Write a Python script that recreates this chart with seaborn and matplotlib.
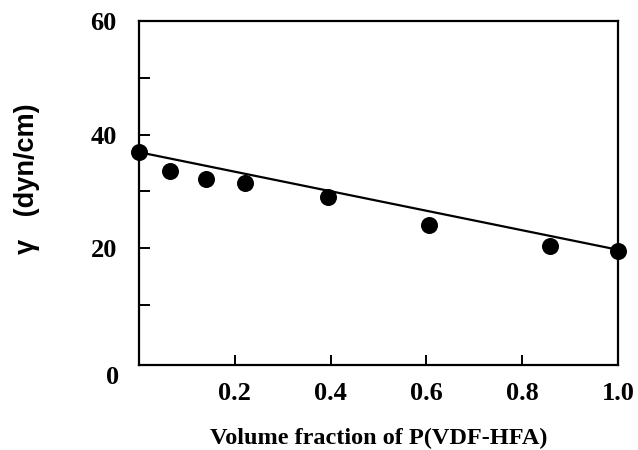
import matplotlib
matplotlib.use("Agg")
import matplotlib.pyplot as plt
import seaborn as sns
import pandas as pd

# data
vol_frac = [0.0, 0.065, 0.139, 0.221, 0.395, 0.606, 0.858, 1.0]
gamma = [37.0, 33.6, 32.2, 31.4, 29.0, 24.0, 20.3, 19.5]
fit_x = [0.0, 1.0]
fit_y = [36.9, 19.7]
x_ticks = [0.2, 0.4, 0.6, 0.8, 1.0]
x_tick_labels = ["0.2", "0.4", "0.6", "0.8", "1.0"]
y_ticks = [20, 40, 60]
y_tick_labels = ["20", "40", "60"]
y_minor = [10, 30, 50]

sns.set_style("ticks")
plt.rcParams['font.family'] = ['Liberation Serif', 'DejaVu Serif']
plt.rcParams['text.color'] = 'black'
plt.rcParams['axes.labelcolor'] = 'black'
plt.rcParams['xtick.color'] = 'black'
plt.rcParams['ytick.color'] = 'black'

fig = plt.figure(figsize=(6.38, 4.5), dpi=100)
ax = fig.add_axes([0.218, 0.189, 0.9687 - 0.218, 0.953 - 0.189])

df = pd.DataFrame({"x": vol_frac, "y": gamma})
fit = pd.DataFrame({"x": fit_x, "y": fit_y})
sns.lineplot(data=fit, x="x", y="y", ax=ax, color="black", linewidth=1.6)
sns.scatterplot(data=df, x="x", y="y", ax=ax, color="black", s=150,
                edgecolor="black", linewidth=0, zorder=5, clip_on=False)

ax.set_xlim(0, 1.0)
ax.set_ylim(-0.6, 60)
for s in ax.spines.values():
    s.set_linewidth(1.6)
    s.set_color("black")
    s.set_visible(True)

ax.set_xticks(x_ticks)
ax.set_xticklabels(x_tick_labels, fontsize=19, fontweight="bold", color="black")
ax.set_yticks(y_ticks)
ax.set_yticklabels(y_tick_labels, fontsize=19, fontweight="bold", color="black")
ax.set_yticks(y_minor, minor=True)
ax.tick_params(axis="both", which="both", direction="in", width=1.4, color="black",
               labelcolor="black")
ax.tick_params(axis="x", which="major", length=7, pad=12)
ax.tick_params(axis="y", which="major", length=8, pad=16)
ax.tick_params(axis="y", which="minor", length=8)
ax.tick_params(axis="x", which="minor", length=0)

ax.text(-0.055, -2.9, "0", fontsize=19, fontweight="bold", ha="center", va="center",
        clip_on=False, color="black")

ax.set_xlabel("Volume fraction of P(VDF-HFA)", fontsize=17.5, fontweight="bold",
              color="black")
ax.xaxis.set_label_coords(0.5, -0.183)
ax.xaxis.label.set_va("top")

ax.set_ylabel("γ   (dyn/cm)", fontsize=19.5, fontweight="bold", color="black",
              family=["Liberation Sans", "DejaVu Sans"])
ax.yaxis.set_label_coords(-0.234, 0.541)
ax.yaxis.label.set_va("center")

fig.savefig("out.png", dpi=100)
